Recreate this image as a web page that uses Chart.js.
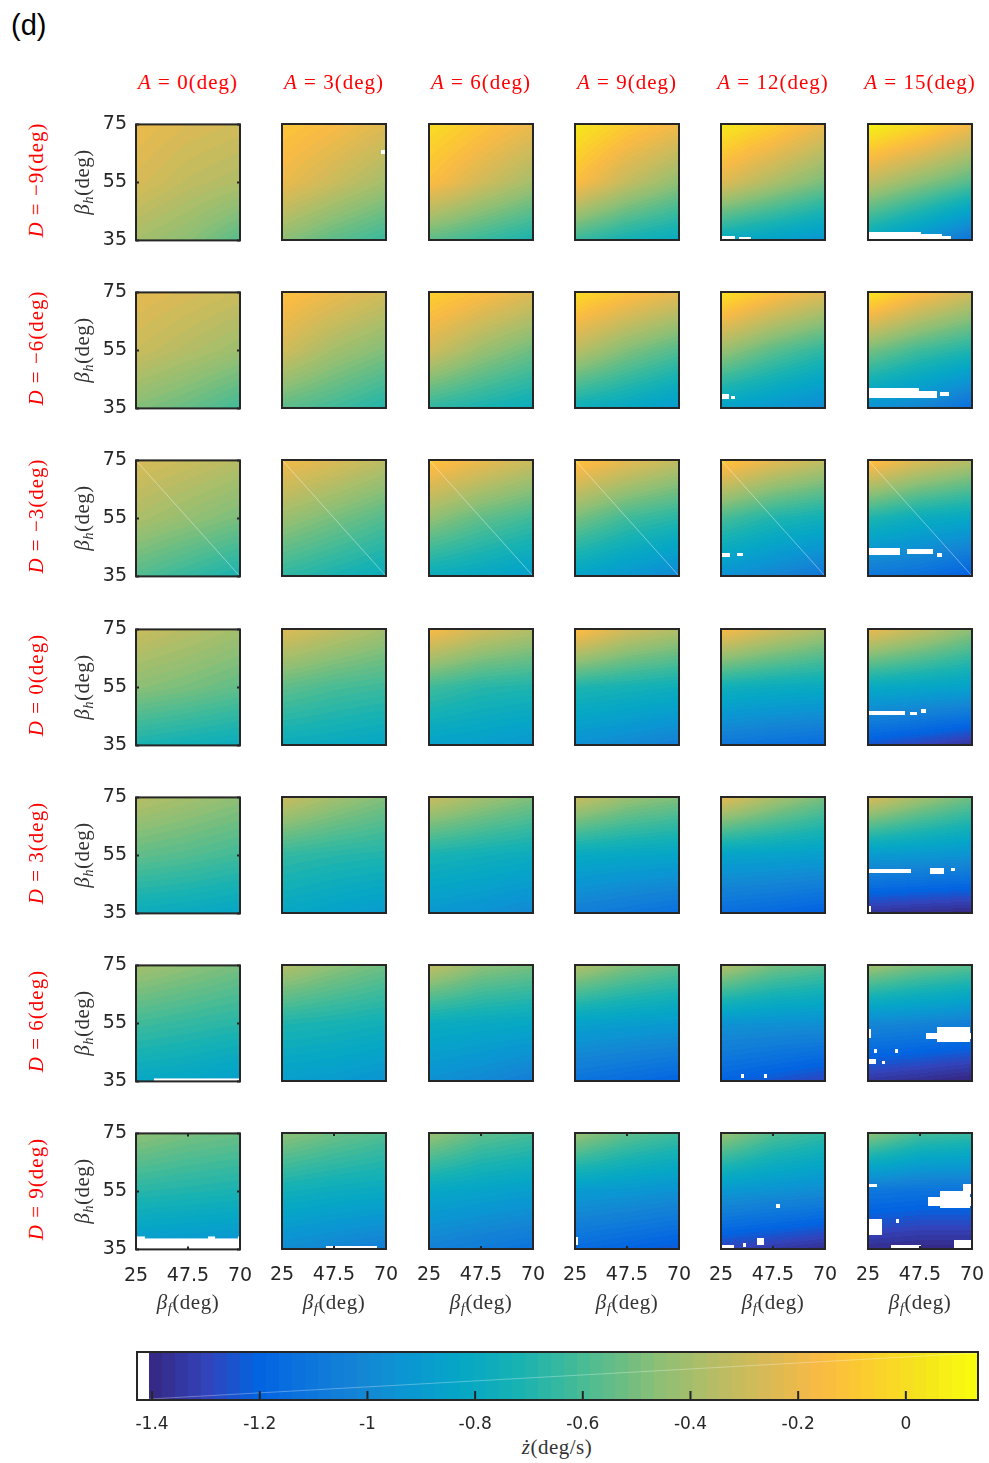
<!DOCTYPE html>
<html>
<head>
<meta charset="utf-8">
<title>Heading rate maps</title>
<script src="https://cdn.jsdelivr.net/npm/chart.js@4.4.1/dist/chart.umd.min.js"></script>
<style>
  html, body { margin: 0; padding: 0; background: #fff; }
  #fig { position: relative; width: 989px; height: 1463px; overflow: hidden; }
  #fig canvas { position: absolute; }
  .txt { position: absolute; white-space: nowrap; line-height: 1; transform: translate(-50%, -50%);
         font-family: "Liberation Serif", "DejaVu Serif", serif; font-size: 21px; color: #333; letter-spacing: 0.5px; }
  .red { color: #ff0000; letter-spacing: 1px; }
  .rot { transform: translate(-50%, -50%) rotate(-90deg); }
  .txt sub { font-size: 0.7em; vertical-align: -0.3em; line-height: 0; }
  #tag { position: absolute; left: 11px; top: 11px; font: 29px "Liberation Sans", Arial, sans-serif; line-height: 1; color: #000; }
</style>
</head>
<body>
<div id="fig"><div id="tag">(d)</div></div>
<script>
const alphaDeg = [0, 3, 6, 9, 12, 15];
const deltaDeg = [-9, -6, -3, 0, 3, 6, 9];
const betaF = [25, 47.5, 70];
const betaH = [75, 55, 35];
const betaFTicks = [25, 47.5, 70];
const betaHTicks = [35, 55, 75];
const cbTicks = [-1.4, -1.2, -1, -0.8, -0.6, -0.4, -0.2, 0];
const cbLimits = [-1.428, 0.134];
const nanLevel = -1.405;

// z-dot (deg/s), one entry per A; 3x3 samples: rows beta_h = 75,55,35, cols beta_f = 25,47.5,70
const zDm9 = [
  [-0.20, -0.25, -0.28, -0.26, -0.33, -0.37, -0.40, -0.46, -0.57],
  [-0.10, -0.16, -0.24, -0.20, -0.30, -0.40, -0.46, -0.56, -0.64],
  [0.00, -0.10, -0.20, -0.14, -0.28, -0.40, -0.56, -0.64, -0.72],
  [0.05, -0.08, -0.18, -0.14, -0.32, -0.45, -0.64, -0.74, -0.80],
  [0.06, -0.06, -0.20, -0.24, -0.38, -0.50, -0.80, -0.86, -0.93],
  [0.10, -0.02, -0.18, -0.33, -0.46, -0.58, -0.82, -0.95, -1.12]
];
const zDm6 = [
  [-0.22, -0.26, -0.30, -0.30, -0.36, -0.42, -0.48, -0.54, -0.62],
  [-0.12, -0.20, -0.28, -0.28, -0.40, -0.48, -0.56, -0.62, -0.70],
  [-0.05, -0.14, -0.24, -0.28, -0.42, -0.52, -0.66, -0.72, -0.78],
  [0.00, -0.12, -0.22, -0.34, -0.48, -0.58, -0.76, -0.82, -0.90],
  [0.03, -0.12, -0.24, -0.42, -0.56, -0.66, -0.86, -0.92, -1.00],
  [0.04, -0.14, -0.28, -0.50, -0.62, -0.70, -0.95, -1.02, -1.15]
];
const zDm3 = [
  [-0.26, -0.30, -0.35, -0.38, -0.44, -0.50, -0.58, -0.65, -0.72],
  [-0.18, -0.25, -0.34, -0.42, -0.50, -0.58, -0.66, -0.72, -0.78],
  [-0.10, -0.20, -0.30, -0.44, -0.55, -0.62, -0.78, -0.82, -0.88],
  [-0.10, -0.22, -0.32, -0.50, -0.62, -0.68, -0.85, -0.92, -1.00],
  [-0.08, -0.22, -0.32, -0.60, -0.70, -0.75, -0.95, -1.02, -1.10],
  [-0.10, -0.25, -0.35, -0.70, -0.78, -0.82, -1.10, -1.14, -1.22]
];
const zD0 = [
  [-0.30, -0.35, -0.40, -0.46, -0.50, -0.55, -0.72, -0.75, -0.78],
  [-0.24, -0.32, -0.40, -0.55, -0.60, -0.63, -0.78, -0.80, -0.83],
  [-0.15, -0.28, -0.36, -0.62, -0.68, -0.70, -0.86, -0.88, -0.92],
  [-0.12, -0.28, -0.36, -0.70, -0.73, -0.76, -0.96, -1.00, -1.05],
  [-0.15, -0.28, -0.38, -0.75, -0.78, -0.80, -1.10, -1.13, -1.16],
  [-0.20, -0.32, -0.45, -0.80, -0.83, -0.86, -1.25, -1.30, -1.36]
];
const zD3 = [
  [-0.35, -0.40, -0.45, -0.55, -0.58, -0.62, -0.78, -0.80, -0.83],
  [-0.30, -0.40, -0.48, -0.65, -0.68, -0.70, -0.82, -0.86, -0.90],
  [-0.30, -0.40, -0.48, -0.72, -0.75, -0.78, -0.92, -0.95, -1.00],
  [-0.30, -0.42, -0.48, -0.80, -0.82, -0.84, -1.06, -1.10, -1.14],
  [-0.22, -0.38, -0.50, -0.85, -0.86, -0.88, -1.15, -1.18, -1.22],
  [-0.25, -0.40, -0.52, -0.90, -0.92, -0.94, -1.36, -1.38, -1.40]
];
const zD6 = [
  [-0.40, -0.45, -0.50, -0.62, -0.65, -0.68, -0.82, -0.84, -0.88],
  [-0.36, -0.45, -0.52, -0.70, -0.72, -0.75, -0.88, -0.90, -0.94],
  [-0.32, -0.45, -0.50, -0.78, -0.80, -0.82, -0.96, -1.00, -1.06],
  [-0.36, -0.48, -0.55, -0.86, -0.88, -0.90, -1.12, -1.16, -1.20],
  [-0.36, -0.50, -0.56, -0.94, -0.95, -0.96, -1.20, -1.25, -1.30],
  [-0.40, -0.50, -0.56, -1.00, -1.02, -1.05, -1.35, -1.38, -1.42]
];
const zD9 = [
  [-0.45, -0.50, -0.53, -0.68, -0.70, -0.72, -0.92, -0.94, -0.96],
  [-0.45, -0.52, -0.58, -0.75, -0.78, -0.80, -0.98, -1.02, -1.06],
  [-0.42, -0.55, -0.60, -0.82, -0.85, -0.88, -1.04, -1.08, -1.12],
  [-0.42, -0.55, -0.62, -0.90, -0.92, -0.95, -1.16, -1.20, -1.24],
  [-0.42, -0.58, -0.65, -0.92, -0.95, -0.98, -1.30, -1.34, -1.38],
  [-0.45, -0.60, -0.64, -1.10, -1.12, -1.12, -1.38, -1.40, -1.40]
];
const zByRow = [zDm9, zDm6, zDm3, zD0, zD3, zD6, zD9];

// blank (NaN) patches: [D, A, bf0, bf1, bh0, bh1]
const gaps = [
  [-9, 3, 68, 69.5, 64.5, 66],
  [-9, 12, 25, 31, 35.4, 36.4], [-9, 12, 33, 38, 35.4, 36],
  [-9, 15, 25, 48, 35, 37.9], [-9, 15, 48, 57, 35, 37.2], [-9, 15, 57, 61, 35, 36.3],
  [-6, 12, 25, 28.5, 38.2, 39.8], [-6, 12, 29.5, 31, 38.2, 39.2],
  [-6, 15, 25, 47, 38.5, 42], [-6, 15, 47, 55, 38.5, 41], [-6, 15, 56, 60, 39, 40.5],
  [-3, 12, 25, 29, 41.6, 42.8], [-3, 12, 32, 34.5, 42, 43],
  [-3, 15, 25, 39, 42.3, 44.7], [-3, 15, 42, 53, 42.5, 44.3], [-3, 15, 55, 57, 41.5, 43],
  [0, 15, 25, 41, 45.4, 46.6], [0, 15, 43, 46, 45.4, 46.4], [0, 15, 48, 50, 46, 47.5],
  [3, 15, 25, 43.5, 48.8, 50], [3, 15, 52, 58, 48.5, 50.5], [3, 15, 61, 62.5, 49.5, 50.5],
  [3, 15, 25, 26.5, 35, 37.5],
  [6, 0, 33, 70, 35, 36],
  [6, 12, 33.5, 35, 36, 37.4], [6, 12, 43.5, 45, 36, 37.4],
  [6, 15, 55, 69, 48.5, 53.5], [6, 15, 50, 70, 49.5, 51.5], [6, 15, 25, 26.5, 50, 53],
  [6, 15, 27.5, 29, 44.5, 46], [6, 15, 36.5, 38, 44.5, 46],
  [6, 15, 25, 28.5, 40.8, 42.5], [6, 15, 31, 32.5, 40.8, 42],
  [9, 0, 25, 70, 35, 38.9], [9, 0, 25, 29, 35, 39.6], [9, 0, 56, 59, 35, 39.6], [9, 0, 69, 70, 35, 39.6],
  [9, 3, 44, 66, 35, 36.2],
  [9, 9, 25, 26.5, 36.5, 39],
  [9, 12, 49, 50.5, 49.2, 50.6], [9, 12, 25, 30.5, 35, 36.5], [9, 12, 40.5, 43.5, 36.4, 38.7],
  [9, 12, 34.5, 36, 35.8, 37],
  [9, 15, 56, 69, 49, 55], [9, 15, 51, 70, 50, 53], [9, 15, 66, 69.5, 54, 57.5],
  [9, 15, 25, 29, 56.3, 57.3], [9, 15, 25, 31, 40, 45.5], [9, 15, 62, 70, 35, 38],
  [9, 15, 35, 48, 35.5, 36.5], [9, 15, 37, 38.5, 44, 45.5]
];

// parula, 17 evenly spaced stops
const parula = [
  [53, 42, 135], [50, 67, 186], [3, 99, 225], [13, 117, 220], [20, 133, 212],
  [9, 152, 209], [6, 167, 198], [21, 177, 180], [56, 185, 158], [101, 190, 134],
  [146, 191, 115], [183, 189, 100], [217, 186, 86], [248, 186, 68], [252, 206, 46],
  [245, 228, 29], [249, 251, 14]
];

function parulaColor(v) {
  const t = (v - nanLevel) / (cbLimits[1] - nanLevel);
  const k = Math.max(0, Math.min(63, Math.floor(t * 64)));
  const s = k / 63 * (parula.length - 1);
  const i = Math.min(parula.length - 2, Math.floor(s));
  const f = s - i;
  return parula[i].map((c, j) => Math.round(c + (parula[i + 1][j] - c) * f));
}

function segment(arr, v) {
  for (let i = 0; i < arr.length - 1; i++) {
    const a = arr[i], b = arr[i + 1];
    if (v >= Math.min(a, b) && v <= Math.max(a, b)) return [i, (v - a) / (b - a)];
  }
  const first = Math.abs(v - arr[0]) < Math.abs(v - arr[arr.length - 1]);
  return first ? [0, 0] : [arr.length - 2, 1];
}

function sample(pts, bf, bh) {
  const [i, tx] = segment(betaF, bf);
  const [j, ty] = segment(betaH, bh);
  const n = betaF.length;
  const z = (jj, ii) => pts[jj * n + ii].z;
  return (1 - tx) * (1 - ty) * z(j, i) + tx * (1 - ty) * z(j, i + 1) +
         (1 - tx) * ty * z(j + 1, i) + tx * ty * z(j + 1, i + 1);
}

const heatLayer = {
  id: 'heatLayer',
  beforeDatasetsDraw(chart, args, opts) {
    const { ctx, chartArea: a, scales: { x, y } } = chart;
    const pts = chart.data.datasets[0].data;
    const w = Math.round(a.right - a.left), h = Math.round(a.bottom - a.top);
    const off = document.createElement('canvas');
    off.width = w; off.height = h;
    const octx = off.getContext('2d');
    const img = octx.createImageData(w, h);
    for (let py = 0; py < h; py++) {
      const bh = y.getValueForPixel(a.top + py + 0.5);
      for (let px = 0; px < w; px++) {
        const bf = x.getValueForPixel(a.left + px + 0.5);
        const blank = opts.gaps.some(g => bf >= g[0] && bf <= g[1] && bh >= g[2] && bh <= g[3]);
        const rgb = blank ? [255, 255, 255] : parulaColor(sample(pts, bf, bh));
        const k = (py * w + px) * 4;
        img.data[k] = rgb[0]; img.data[k + 1] = rgb[1]; img.data[k + 2] = rgb[2]; img.data[k + 3] = 255;
      }
    }
    octx.putImageData(img, 0, 0);
    ctx.drawImage(off, a.left, a.top, a.right - a.left, a.bottom - a.top);
  },
  afterDraw(chart, args, opts) {
    const { ctx, chartArea: a, scales: { x, y } } = chart;
    ctx.save();
    if (opts.seam) {
      ctx.strokeStyle = 'rgba(255,255,255,0.4)';
      ctx.lineWidth = 1;
      ctx.beginPath(); ctx.moveTo(a.left, a.top); ctx.lineTo(a.right, a.bottom); ctx.stroke();
    }
    ctx.strokeStyle = '#262626';
    ctx.lineWidth = 2;
    ctx.beginPath();
    if (opts.tickY) {
      betaHTicks.forEach(v => {
        const p = y.getPixelForValue(v);
        ctx.moveTo(a.left, p); ctx.lineTo(a.left + 3, p);
        ctx.moveTo(a.right, p); ctx.lineTo(a.right - 3, p);
      });
    }
    if (opts.tickX) {
      betaFTicks.forEach(v => {
        const p = x.getPixelForValue(v);
        ctx.moveTo(p, a.bottom); ctx.lineTo(p, a.bottom - 3);
        ctx.moveTo(p, a.top); ctx.lineTo(p, a.top + 3);
      });
    }
    ctx.stroke();
    ctx.strokeRect(a.left, a.top, a.right - a.left, a.bottom - a.top);
    ctx.restore();
  }
};

const colorBar = {
  id: 'colorBar',
  beforeDatasetsDraw(chart) {
    const { ctx, chartArea: a, scales: { x } } = chart;
    let firstColor = null;
    for (let px = Math.floor(a.left); px < Math.ceil(a.right); px++) {
      const v = x.getValueForPixel(px + 0.5);
      const rgb = v < nanLevel ? [255, 255, 255] : parulaColor(v);
      if (v >= nanLevel && firstColor === null) firstColor = px;
      ctx.fillStyle = `rgb(${rgb[0]},${rgb[1]},${rgb[2]})`;
      ctx.fillRect(px, a.top, 1, a.bottom - a.top);
    }
    ctx.save();
    ctx.strokeStyle = 'rgba(255,255,255,0.3)';
    ctx.lineWidth = 1;
    ctx.beginPath(); ctx.moveTo(firstColor, a.bottom - 1); ctx.lineTo(a.right, a.top + 1); ctx.stroke();
    ctx.restore();
  },
  afterDraw(chart) {
    const { ctx, chartArea: a, scales: { x } } = chart;
    ctx.save();
    ctx.strokeStyle = '#262626';
    ctx.lineWidth = 2;
    ctx.beginPath();
    cbTicks.forEach(v => {
      const p = x.getPixelForValue(v);
      ctx.moveTo(p, a.bottom); ctx.lineTo(p, a.bottom - 9);
    });
    ctx.stroke();
    ctx.strokeRect(a.left, a.top, a.right - a.left, a.bottom - a.top);
    ctx.restore();
  }
};

const fig = document.getElementById('fig');
const boxW = 104, boxH = 116;
const padL = 50, padT = 14, padR = 16, padB = 36;
const colX = c => Math.round(136 + c * 146.3);
const rowY = r => Math.round(124 + r * 168.2);
const tickFont = { family: 'DejaVu Sans', size: 19 };
const fmtNum = v => (v < 0 ? '\u2212' + Math.abs(v) : String(v));

function addText(html, cx, cy, cls) {
  const d = document.createElement('div');
  d.className = 'txt ' + (cls || '');
  d.innerHTML = html;
  d.style.left = cx + 'px';
  d.style.top = cy + 'px';
  fig.appendChild(d);
}

// put the plot area of a chart exactly on the wanted box
function pinArea(chart, cv, left, top, w, h) {
  let a = chart.chartArea;
  const dw = w - (a.right - a.left), dh = h - (a.bottom - a.top);
  if (dw !== 0 || dh !== 0) chart.resize(chart.width + dw, chart.height + dh);
  a = chart.chartArea;
  cv.style.left = (left - a.left) + 'px';
  cv.style.top = (top - a.top) + 'px';
}

deltaDeg.forEach((D, r) => {
  alphaDeg.forEach((A, c) => {
    const cv = document.createElement('canvas');
    cv.width = padL + boxW + padR;
    cv.height = padT + boxH + padB;
    cv.style.left = (colX(c) - padL) + 'px';
    cv.style.top = (rowY(r) - padT) + 'px';
    fig.appendChild(cv);

    const vals = zByRow[r][c];
    const pts = [];
    betaH.forEach((bh, j) => betaF.forEach((bf, i) => pts.push({ x: bf, y: bh, z: vals[j * betaF.length + i] })));
    const isLeft = c === 0, isBottom = r === deltaDeg.length - 1;

    const chart = new Chart(cv, {
      type: 'scatter',
      data: { datasets: [{ data: pts, pointRadius: 0, pointHoverRadius: 0 }] },
      options: {
        responsive: false,
        maintainAspectRatio: false,
        animation: false,
        events: [],
        layout: { padding: { top: padT, right: padR, left: 0, bottom: 0 } },
        plugins: {
          legend: { display: false },
          tooltip: { enabled: false },
          heatLayer: {
            gaps: gaps.filter(g => g[0] === D && g[1] === A).map(g => g.slice(2)),
            seam: D === -3,
            tickX: isBottom,
            tickY: isLeft
          }
        },
        scales: {
          x: {
            type: 'linear', min: betaF[0], max: betaF[betaF.length - 1],
            afterBuildTicks: s => { s.ticks = betaFTicks.map(v => ({ value: v })); },
            afterFit: s => { s.height = padB; },
            grid: { display: false, drawTicks: false },
            border: { display: false },
            ticks: { display: isBottom, autoSkip: false, maxRotation: 0, padding: 15,
                     color: '#262626', font: tickFont, callback: v => String(v) }
          },
          y: {
            type: 'linear', min: betaHTicks[0], max: betaHTicks[betaHTicks.length - 1],
            afterBuildTicks: s => { s.ticks = betaHTicks.map(v => ({ value: v })); },
            afterFit: s => { s.width = padL; },
            grid: { display: false, drawTicks: false },
            border: { display: false },
            ticks: { display: isLeft, autoSkip: false, padding: 9,
                     color: '#262626', font: tickFont, callback: v => String(v) }
          }
        }
      },
      plugins: [heatLayer]
    });
    pinArea(chart, cv, colX(c), rowY(r), boxW, boxH);
  });
});

alphaDeg.forEach((A, c) => {
  addText(`<i>A</i> = ${fmtNum(A)}(deg)`, colX(c) + boxW / 2, 82, 'red');
  addText(`<i>β</i><sub><i>f</i></sub>(deg)`, colX(c) + boxW / 2, 1302);
});
deltaDeg.forEach((D, r) => {
  const cy = rowY(r) + boxH / 2;
  addText(`<i>D</i> = ${fmtNum(D)}(deg)`, 36, cy - 2, 'red rot');
  addText(`<i>β</i><sub><i>h</i></sub>(deg)`, 82, cy, 'rot');
});
addText(`<i>ż</i>(deg/s)`, 557, 1447);

// colour bar
const cb = document.createElement('canvas');
const cbBox = { left: 137, top: 1352, width: 841, height: 48 };
cb.width = 30 + cbBox.width + 30;
cb.height = 4 + cbBox.height + 40;
cb.style.left = (cbBox.left - 30) + 'px';
cb.style.top = (cbBox.top - 4) + 'px';
fig.appendChild(cb);
const cbChart = new Chart(cb, {
  type: 'scatter',
  data: { datasets: [] },
  options: {
    responsive: false,
    maintainAspectRatio: false,
    animation: false,
    events: [],
    layout: { padding: { top: 4, right: 30, left: 30, bottom: 0 } },
    plugins: { legend: { display: false }, tooltip: { enabled: false } },
    scales: {
      x: {
        type: 'linear', min: cbLimits[0], max: cbLimits[1],
        afterBuildTicks: s => { s.ticks = cbTicks.map(v => ({ value: v })); },
        afterFit: s => { s.height = 40; },
        grid: { display: false, drawTicks: false },
        border: { display: false },
        ticks: { autoSkip: false, maxRotation: 0, padding: 14, color: '#262626',
                 font: { family: 'DejaVu Sans', size: 17 },
                 callback: v => String(Math.round(v * 10) / 10) }
      },
      y: { display: false, min: 0, max: 1 }
    }
  },
  plugins: [colorBar]
});
pinArea(cbChart, cb, cbBox.left, cbBox.top, cbBox.width, cbBox.height);
</script>
</body>
</html>
